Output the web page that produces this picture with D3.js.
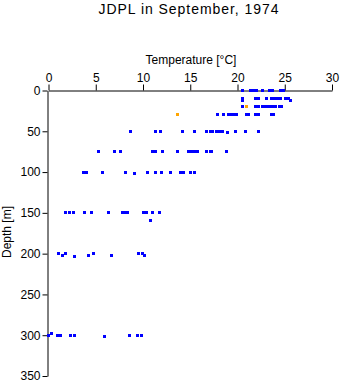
<!DOCTYPE html>
<html><head><meta charset="utf-8">
<script src="https://cdn.jsdelivr.net/npm/d3@7"></script>
<style>body{margin:0;background:#fff}svg{display:block}text{font-family:"Liberation Sans",Arial,sans-serif;fill:#000}</style>
</head><body>
<script>
const title = "JDPL in September, 1974";
const xLabel = "Temperature [°C]";
const yLabel = "Depth [m]";
const xTicks = [0,5,10,15,20,25,30];
const yTicks = [0,50,100,150,200,250,300,350];

// series: [temperature, depth]
const blueTemp = [
 20.55,21.4,21.7,22.0,22.6,23.4,23.7,24.5,24.9,
 20.55,20.55,21.9,22.2,23.1,23.6,23.9,24.2,24.5,25.1,25.4,25.6,
 20.55,21.9,22.2,22.6,22.9,23.2,23.5,23.7,24.0,24.4,24.7,
 17.9,18.5,19.1,19.4,19.7,19.9,21.0,21.2,21.9,22.2,23.6,23.8,
 8.7,11.3,11.8,14.2,15.5,16.7,17.1,17.4,17.8,18.1,18.4,18.9,19.8,20.8,22.2,
 5.3,7.0,7.6,11.0,11.3,12.1,13.7,14.8,15.1,15.5,15.8,16.7,17.1,17.3,18.8,
 3.7,4.0,5.7,8.1,9.1,10.5,11.3,12.0,12.9,14.0,14.3,15.0,15.4,
 1.8,2.2,2.6,3.8,4.6,6.3,7.8,8.2,8.4,10.1,10.4,11.0,11.7,10.8,
 1.06,1.5,1.8,2.7,4.2,4.8,6.7,9.5,9.9,10.2,
 0.0,0.3,0.9,1.1,1.3,2.3,2.7,5.9,8.6,9.4,9.8
];
const blueDepth = [
 0,0,0,0,0,0,0,0,0,
 10,12,10,10,10,10,10,10,10,10,10,12,
 20,20,20,20,20,20,20,20,20,20,20,
 30,30,30,30,30,30,30,30,30,30,30,30,
 50,50,50,50,50,50,50,50,50,50,50,52,50,50,50,
 75,75,75,75,75,75,75,75,75,75,75,75,75,75,75,
 100,100,100,100,102,100,100,100,100,100,100,100,100,
 150,150,150,150,150,150,150,150,150,150,150,150,150,159,
 200,202,200,204,202,200,202,200,200,202,
 300,298,300,300,300,300,300,301,300,300,300
];
const orangeTemp = [13.6, 20.9];
const orangeDepth = [30, 20];

const W = 341, H = 384;
const svg = d3.select("body").append("svg").attr("width", W).attr("height", H);

const x = d3.scaleLinear().domain([0,30]).range([48, 331.5]);
const y = d3.scaleLinear().domain([0,350]).range([90, 375.5]);

svg.append("text").attr("x", 189).attr("y", 14).attr("text-anchor","middle")
  .style("font-size","14px").style("letter-spacing","0.95px").text(title);
svg.append("text").attr("x", 191).attr("y", 64).attr("text-anchor","middle")
  .style("font-size","12px").text(xLabel);
svg.append("text").attr("transform","translate(11,232) rotate(-90)").attr("text-anchor","middle")
  .style("font-size","12px").text(yLabel);

const xAxis = svg.append("g").attr("transform","translate(0.5,90.5)")
  .call(d3.axisTop(x).tickValues(xTicks).tickSize(6).tickSizeOuter(0).tickFormat(d3.format("d")));
const yAxis = svg.append("g").attr("transform","translate(47.5,0.5)")
  .call(d3.axisLeft(y).tickValues(yTicks).tickSize(5).tickSizeOuter(0).tickFormat(d3.format("d")));
[xAxis,yAxis].forEach(g=>{
  g.selectAll("path").attr("stroke","#000");
  g.selectAll("line").attr("stroke","#000");
  g.selectAll("text").style("font-size","12px").attr("fill","#000");
});
xAxis.selectAll("text").attr("dy","0");
yAxis.selectAll("text").attr("x",-7);

const blue = blueTemp.map((t,i)=>({t, d: blueDepth[i]}));
const orange = orangeTemp.map((t,i)=>({t, d: orangeDepth[i]}));

svg.append("g").selectAll("rect").data(blue).join("rect")
  .attr("x", d=>Math.round(x(d.t))-1).attr("y", d=>Math.round(y(d.d))-1)
  .attr("width",3).attr("height",3).attr("fill","#0000ff");
svg.append("g").selectAll("rect").data(orange).join("rect")
  .attr("x", d=>Math.round(x(d.t))-1).attr("y", d=>Math.round(y(d.d))-1)
  .attr("width",3).attr("height",3).attr("fill","#ffa500");
</script>
</body></html>
